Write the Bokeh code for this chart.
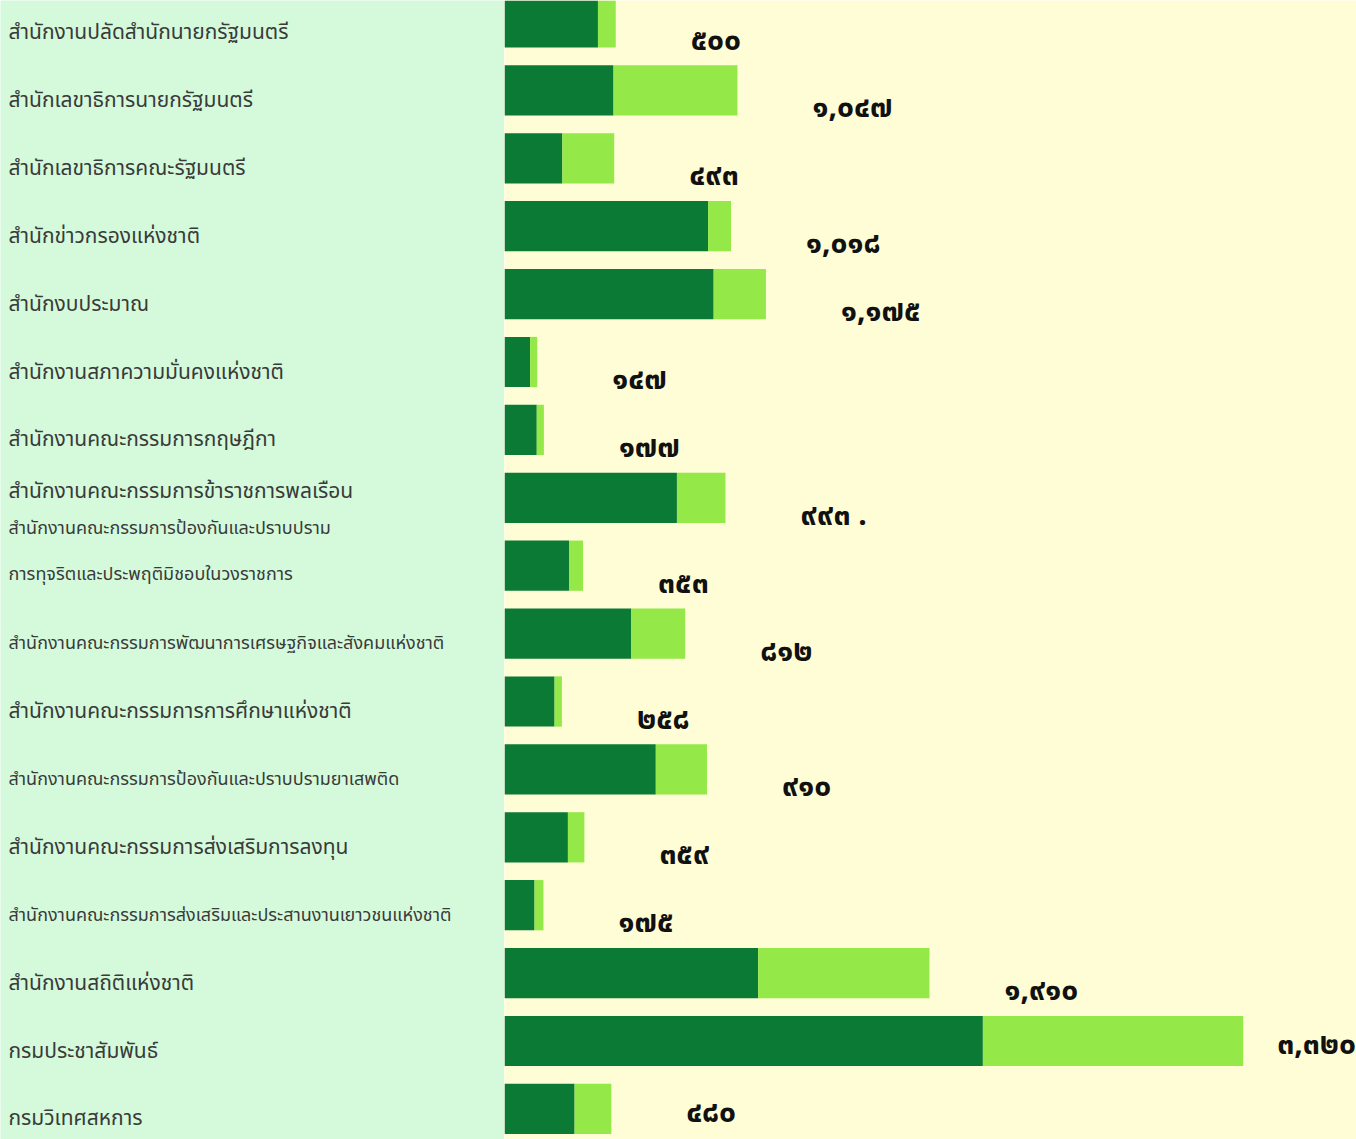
from bokeh.plotting import figure
from bokeh.layouts import row
from bokeh.models import ColumnDataSource, Range1d
from bokeh.core.properties import value
from bokeh.embed import file_html
from bokeh.resources import INLINE

# ---------------- data ----------------
categories = [
    "สำนักงานปลัดสำนักนายกรัฐมนตรี",
    "สำนักเลขาธิการนายกรัฐมนตรี",
    "สำนักเลขาธิการคณะรัฐมนตรี",
    "สำนักข่าวกรองแห่งชาติ",
    "สำนักงบประมาณ",
    "สำนักงานสภาความมั่นคงแห่งชาติ",
    "สำนักงานคณะกรรมการกฤษฎีกา",
    "สำนักงานคณะกรรมการข้าราชการพลเรือน",
    "สำนักงานคณะกรรมการป้องกันและปราบปราม\nการทุจริตและประพฤติมิชอบในวงราชการ",
    "สำนักงานคณะกรรมการพัฒนาการเศรษฐกิจและสังคมแห่งชาติ",
    "สำนักงานคณะกรรมการการศึกษาแห่งชาติ",
    "สำนักงานคณะกรรมการป้องกันและปราบปรามยาเสพติด",
    "สำนักงานคณะกรรมการส่งเสริมการลงทุน",
    "สำนักงานคณะกรรมการส่งเสริมและประสานงานเยาวชนแห่งชาติ",
    "สำนักงานสถิติแห่งชาติ",
    "กรมประชาสัมพันธ์",
    "กรมวิเทศสหการ",
]
totals = [500, 1047, 493, 1018, 1175, 147, 177, 993, 353, 812, 258, 910, 359, 175, 1910, 3320, 480]
dark_values = [420, 490, 260, 915, 940, 115, 145, 775, 290, 570, 225, 680, 285, 135, 1140, 2150, 315]
total_labels = ["๕๐๐", "๑,๐๔๗", "๔๙๓", "๑,๐๑๘", "๑,๑๗๕", "๑๔๗", "๑๗๗", "๙๙๓ .", "๓๕๓",
                "๘๑๒", "๒๕๘", "๙๑๐", "๓๕๙", "๑๗๕", "๑,๙๑๐", "๓,๓๒๐", "๔๘๐"]

# ---------------- styles ----------------
H = 1139
LEFT_W = 504
RIGHT_W = 852
ROW_PX = 67.9
TOP_PX = 22
MINT = "#d4fadb"
CREAM = "#fefdd5"
DARK = "#0b7a35"
LIGHT = "#94e848"
PX_PER_UNIT = 0.2225
THAI_FONT = value("Noto Sans Thai, Noto Sans, sans-serif")

n = len(categories)
idx = list(range(n))
y_start = (H - TOP_PX) / ROW_PX
y_end = -TOP_PX / ROW_PX

def yrange():
    return Range1d(start=y_start, end=y_end)

light_values = [t - d for t, d in zip(totals, dark_values)]

# ---------------- right: bars ----------------
p = figure(width=RIGHT_W, height=H, x_range=Range1d(0, RIGHT_W / PX_PER_UNIT), y_range=yrange(),
           output_backend="svg", toolbar_location=None, min_border=0,
           x_axis_location=None, y_axis_location=None)
p.grid.visible = False
p.outline_line_color = None
p.background_fill_color = CREAM
p.border_fill_color = CREAM

src = ColumnDataSource(dict(y=idx, dark=dark_values, total=totals, light=light_values))
p.hbar(y="y", left=0, right="dark", height=0.74, source=src, fill_color=DARK, line_color=None)
p.hbar(y="y", left="dark", right="total", height=0.74, source=src, fill_color=LIGHT, line_color=None)

lx, ly, ltxt, lxo, lyo = [], [], [], [], []
for i, (t, s) in enumerate(zip(totals, total_labels)):
    end_px = t * PX_PER_UNIT
    lx.append(t)
    ly.append(i)
    ltxt.append(s)
    if end_px + 75 + 80 > RIGHT_W:
        lxo.append(34); lyo.append(4)
    else:
        lxo.append(75); lyo.append(4 if i == n - 1 else 18)
p.text(x="x", y="y", text="t", x_offset="xo", y_offset="yo",
       source=ColumnDataSource(dict(x=lx, y=ly, t=ltxt, xo=lxo, yo=lyo)),
       text_font=THAI_FONT, text_font_style="bold",
       text_font_size="30px", text_color="#111111", text_align="left", text_baseline="middle")

# ---------------- left: category labels ----------------
q = figure(width=LEFT_W, height=H, x_range=Range1d(0, LEFT_W), y_range=yrange(),
           output_backend="svg", toolbar_location=None, min_border=0,
           x_axis_location=None, y_axis_location=None)
q.grid.visible = False
q.outline_line_color = None
q.background_fill_color = MINT
q.border_fill_color = MINT

tx, ty, tt, tyo, tsz = [], [], [], [], []
for i, c in enumerate(categories):
    lines = c.split("\n")
    nxt_multi = i + 1 < n and "\n" in categories[i + 1]
    if len(lines) > 1:
        for j, line in enumerate(lines):
            tx.append(8); ty.append(i); tt.append(line)
            tyo.append(-37 + 46 * j); tsz.append("18px")
    else:
        tx.append(8); ty.append(i); tt.append(c)
        tyo.append(-6 if nxt_multi else 10)
        tsz.append("18px" if len(c) > 40 else "21px")

q.text(x="x", y="y", text="t", y_offset="yo", text_font_size="sz",
       source=ColumnDataSource(dict(x=tx, y=ty, t=tt, yo=tyo, sz=tsz)),
       text_font=THAI_FONT,
       text_color="#3a3a3a", text_align="left", text_baseline="middle")

layout = row(q, p, spacing=0)
open("out.html", "w").write(file_html(layout, INLINE))
